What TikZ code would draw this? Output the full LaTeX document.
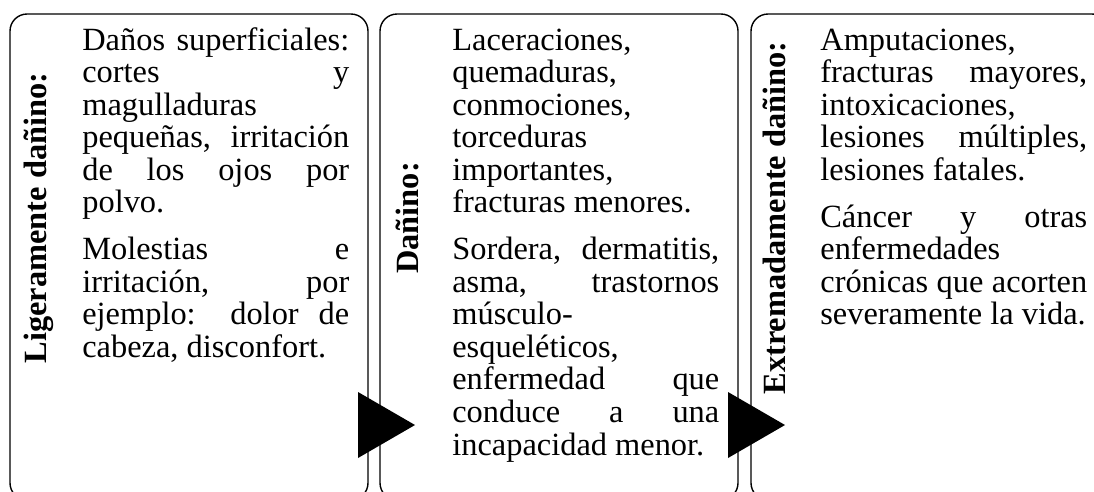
\documentclass[tikz,border=0pt]{standalone}
\usepackage{fontspec}
\setmainfont{Liberation Serif}
\hyphenpenalty=10000\relax
\hbadness=10000\relax

\begin{document}
\begin{tikzpicture}[x=0.02cm,y=-0.02cm,
    panel/.style={draw, line width=0.8pt, rounded corners=9.7pt},
    sidelabel/.style={anchor=base, rotate=90, inner sep=0pt,
        font=\bfseries\fontsize{18.44pt}{18.55pt}\selectfont},
    bodytext/.style={anchor=base west, inner sep=0pt, text width=5.34cm, align=justify,
        font=\fontsize{18.44pt}{18.55pt}\selectfont}]
                \useasboundingbox (0,0) rectangle (1094,491);
                \clip (0,0) rectangle (1094,491);

                % Three panels
                \draw[panel] (10,14) rectangle (368,500);
                \draw[panel] (380,14) rectangle (738,500);
                \draw[panel] (751,14) rectangle (1109,500);

                % Arrow heads between the panels
                \fill (358,392) -- (358,458) -- (415,425) -- cycle;
                \fill (728,392) -- (728,458) -- (785,425) -- cycle;

                % Side titles
                \node[sidelabel] (t1) at (46,218) {Ligeramente dañino:};
                \node[sidelabel] (t2) at (418,218) {Dañino:};
                \node[sidelabel] (t3) at (785,218) {Extremadamente dañino:};

                % Descriptions
                \node[bodytext] (d1) at (82,50) {Daños superficiales:\linebreak cortes y\linebreak magulladuras\newline pequeñas, irritación\linebreak de los ojos por\linebreak polvo.\par\vspace{8pt}Molestias e\linebreak irritación, por\linebreak ejemplo: dolor de\linebreak cabeza, disconfort.};
                \node[bodytext] (d2) at (452,50) {Laceraciones,\newline quemaduras,\newline conmociones,\newline torceduras\newline importantes,\newline fracturas menores.\par\vspace{8pt}Sordera, dermatitis,\linebreak asma, trastornos\linebreak músculo-\newline esqueléticos,\newline enfermedad que\linebreak conduce a una\linebreak incapacidad menor.};
                \node[bodytext] (d3) at (820,50) {Amputaciones,\newline fracturas mayores,\linebreak intoxicaciones,\newline lesiones múltiples,\linebreak lesiones fatales.\par\vspace{8pt}Cáncer y otras\linebreak enfermedades\newline crónicas que acorten\linebreak severamente la vida.};
            \end{tikzpicture}
\end{document}
